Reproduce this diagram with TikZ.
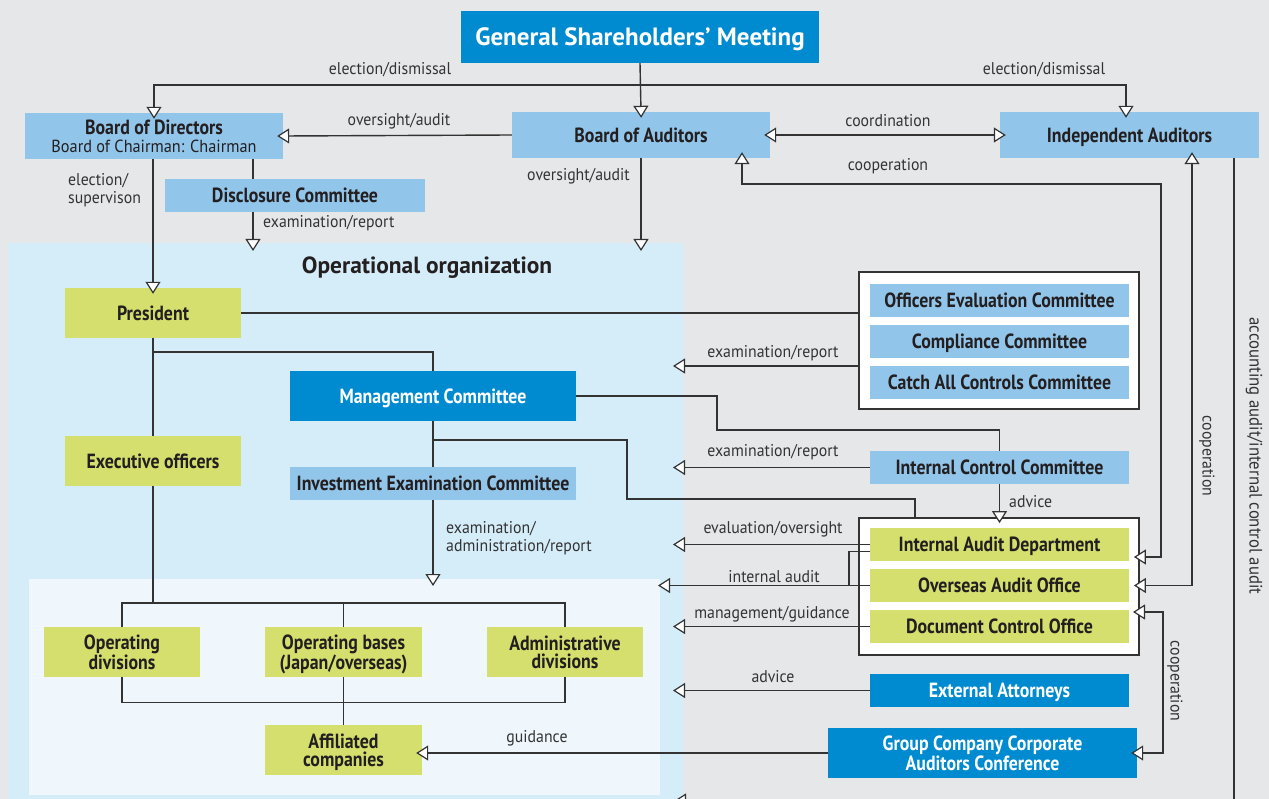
\documentclass[tikz,border=0pt]{standalone}
\usepackage{fontspec}
\setmainfont{PT Sans}
\newfontfamily\cnd{PT Sans}[FakeStretch=0.93, BoldFeatures={FakeStretch=0.87}]
\usetikzlibrary{arrows.meta}

\definecolor{bgray}{HTML}{E6E7E8}
\definecolor{dblue}{HTML}{008BD0}
\definecolor{lblue}{HTML}{92C5EA}
\definecolor{lgreen}{HTML}{D4DF6E}
\definecolor{zone}{HTML}{D5ECF9}
\definecolor{zonein}{HTML}{EFF7FD}
\definecolor{ink}{HTML}{231F20}
\definecolor{wirec}{HTML}{333333}

\tikzset{
  sz/.style 2 args={minimum width=#1pt, minimum height=#2pt},
  box/.style={inner sep=0pt, align=center, text=ink, text depth=0pt,
    font=\cnd\bfseries\fontsize{20.5}{18}\selectfont},
  dk/.style={box, fill=dblue, text=white},
  lt/.style={box, fill=lblue},
  gr/.style={box, fill=lgreen},
  frame/.style={draw=wirec, line width=1.8pt, fill=white, inner sep=0pt},
  lbl/.style={inner sep=0pt, text=wirec, align=left,
    font=\cnd\fontsize{17}{18}\selectfont},
  wire/.style={draw=wirec, line width=1.4pt},
  tip/.tip={Triangle[length=12pt, width=15pt, fill=white, line width=1.2pt]},
  arr/.style={wire, -tip},
  into/.style={shorten >=-6pt},
  darr/.style={wire, tip-tip, shorten <=-6pt, shorten >=-6pt},
}

\begin{document}
\begin{tikzpicture}[x=1pt, y=-1pt]
\useasboundingbox (0,0) rectangle (1269,799);
\clip (0,0) rectangle (1269,799);

% background areas
\fill[bgray] (0,0) rectangle (1269,799);
\fill[zone] (8,243) rectangle (683,810);
\fill[zonein] (29,579) rectangle (660,795);

% top level
\node[dk, sz={358}{52}, font=\bfseries\fontsize{25}{26}\selectfont] (gsm) at (640,37) {General Shareholders’ Meeting};
\node[lt, sz={258}{46}] (bod) at (154,136) {Board of Directors\\[0pt]{\mdseries\fontsize{17.5}{18}\selectfont Board of Chairman: Chairman}};
\node[lt, sz={258}{46}] (boa) at (641,135) {Board of Auditors};
\node[lt, sz={259}{46}] (ia) at (1129.5,135) {Independent Auditors};
\node[lt, sz={260}{33}] (disc) at (295,195.5) {Disclosure Committee};

% operational organization
\node[font=\bfseries\fontsize{23.4}{24}\selectfont, text=ink, inner sep=0pt] (optitle) at (427,268) {Operational organization};
\node[gr, sz={176}{50}] (pres) at (153,313) {President};
\node[gr, sz={176}{50}] (exec) at (153,461) {Executive officers};
\node[dk, sz={286}{50}] (mgmt) at (433,396) {Management Committee};
\node[lt, sz={286}{33}] (inv) at (433,483.5) {Investment Examination Committee};
\node[gr, sz={156}{50}] (opd) at (122,652) {Operating\\divisions};
\node[gr, sz={157}{50}] (opb) at (343.5,652) {Operating bases\\(Japan/overseas)};
\node[gr, sz={156}{50}] (adm) at (565,652) {Administrative\\divisions};
\node[gr, sz={157}{50}] (aff) at (343.5,750) {Affiliated\\companies};

% committees on the right
\node[frame, sz={280}{137}] (cbox) at (999,340.5) {};
\node[lt, sz={259}{33}] (oec) at (999.5,300.5) {Officers Evaluation Committee};
\node[lt, sz={259}{33}] (cc) at (999.5,341.5) {Compliance Committee};
\node[lt, sz={259}{33}] (cacc) at (999.5,382.5) {Catch All Controls Committee};
\node[lt, sz={259}{33}] (icc) at (999.5,467.5) {Internal Control Committee};
\node[frame, sz={280}{137}] (abox) at (999,586.5) {};
\node[gr, sz={259}{33}] (iad) at (999.5,544.5) {Internal Audit Department};
\node[gr, sz={259}{33}] (oao) at (999.5,585.5) {Overseas Audit Office};
\node[gr, sz={259}{33}] (dco) at (999.5,626.5) {Document Control Office};
\node[dk, sz={259}{33}] (ext) at (999.5,690.5) {External Attorneys};
\node[dk, sz={309}{50}] (gcc) at (982.5,753) {Group Company Corporate\\Auditors Conference};

% bend points and free ends
\coordinate (top) at (640,85);
\coordinate (opA) at (253,251);
\coordinate (opB) at (641,251);
\coordinate (k1) at (742,184);
\coordinate (k2) at (1161,557);
\coordinate (k3) at (1192,0);
\coordinate (k4) at (1234,801);
\coordinate (opC) at (674,801);
\coordinate (k5) at (1163,753);
\coordinate (k6) at (1139,612);
\coordinate (lx) at (673,0);
\coordinate (ix2) at (658,0);
\coordinate (iax) at (849,0);
\coordinate (e1) at (673,366);
\coordinate (b1) at (153,352);
\coordinate (m1) at (717,430);
\coordinate (m2) at (433,440);
\coordinate (m3) at (627,499);
\coordinate (m4) at (915,499);
\coordinate (invEnd) at (433,586);
\coordinate (h) at (153,603);

% connectors: governance
\draw[arr, into] (gsm.south) -- (boa.north);
\draw[arr, into] (top) -| (bod.north);
\draw[arr, into] (top) -| ([xshift=-3.5pt]ia.north);
\draw[arr, into] (boa.west) -- (bod.east);
\draw[darr] (boa.east) -- (ia.west);
\draw[arr] (boa.south) -- (opB);
\draw[wire] (bod.south -| opA) -- (disc.north -| opA);
\draw[arr] (disc.south -| opA) -- (opA);
\draw[arr, into] (pres.north |- bod.south) -- (pres.north);

% cooperation and audit lines on the right
\draw[darr] (boa.south -| k1) -- (k1) -| (k2) -- (k2 -| abox.east);
\draw[darr] (ia.south -| k3) |- (oao.east -| abox.east);
\draw[arr] (ia.south -| k4) -- (k4) -- (opC);
\draw[darr] (k6) -| (k5) -- (gcc.east);

% operational organization lines
\draw[wire] (pres.east) -- (pres.east -| cbox.west);
\draw[wire] (pres.south) -- (exec.north);
\draw[wire] (b1) -| (mgmt.north);
\draw[wire] (exec.south) -- (h);
\draw[wire] (mgmt.east) -| (m1) -| (icc.north);
\draw[wire] (mgmt.south) -- (inv.north);
\draw[wire] (m2) -| (m3) -- (m4) -- (m4 |- abox.north);
\draw[arr] (inv.south) -- (invEnd);
\draw[arr, into] (icc.south) -- (abox.north -| icc.south);
\draw[wire] (opd.north) -- ++(0,-24) -| (adm.north);
\draw[wire] (opb.north) -- ++(0,-24);
\draw[wire] (opd.south) -- ++(0,25) -| (adm.south);
\draw[wire] (opb.south) -- (aff.north);

% reports flowing back to the organization
\draw[arr] (e1 -| cbox.west) -- (e1);
\draw[arr] (icc.west) -- (icc.west -| lx);
\draw[arr] (iad.west) -- (iad.west -| lx);
\draw[wire] ([yshift=-7pt]iad.west) -| (oao.west -| iax);
\draw[arr] (oao.west) -- (oao.west -| ix2);
\draw[arr] (dco.west) -- (dco.west -| lx);
\draw[arr] (ext.west) -- (ext.west -| lx);
\draw[arr, into] (gcc.west) -- (gcc.west -| aff.east);

% connector labels
\node[lbl] (t1) at (390,70) {election/dismissal};
\node[lbl] (t2) at (1044,70) {election/dismissal};
\node[lbl] (t3) at (399,121) {oversight/audit};
\node[lbl] (t4) at (888,121) {coordination};
\node[lbl] (t5) at (888,166) {cooperation};
\node[lbl, anchor=west] (t6) at (527,176) {oversight/audit};
\node[lbl, anchor=north west] (t7) at (68,173) {election/\\supervison};
\node[lbl, anchor=west] (t8) at (263,223) {examination/report};
\node[lbl] (t9) at (773,353) {examination/report};
\node[lbl] (t10) at (773,452) {examination/report};
\node[lbl, anchor=west] (t11) at (1009,502) {advice};
\node[lbl, anchor=north west] (t12) at (446,521) {examination/\\administration/report};
\node[lbl] (t13) at (773,529) {evaluation/oversight};
\node[lbl] (t14) at (774,577) {internal audit};
\node[lbl] (t15) at (772,614) {management/guidance};
\node[lbl] (t16) at (773,677) {advice};
\node[lbl] (t17) at (537,738) {guidance};
\node[lbl, rotate=-90] (t18) at (1207,456) {cooperation};
\node[lbl, rotate=-90] (t19) at (1175,681) {cooperation};
\node[lbl, rotate=-90, font=\cnd\fontsize{18}{18}\selectfont] (t20) at (1254,456) {accounting audit/internal control audit};
\end{tikzpicture}
\end{document}
